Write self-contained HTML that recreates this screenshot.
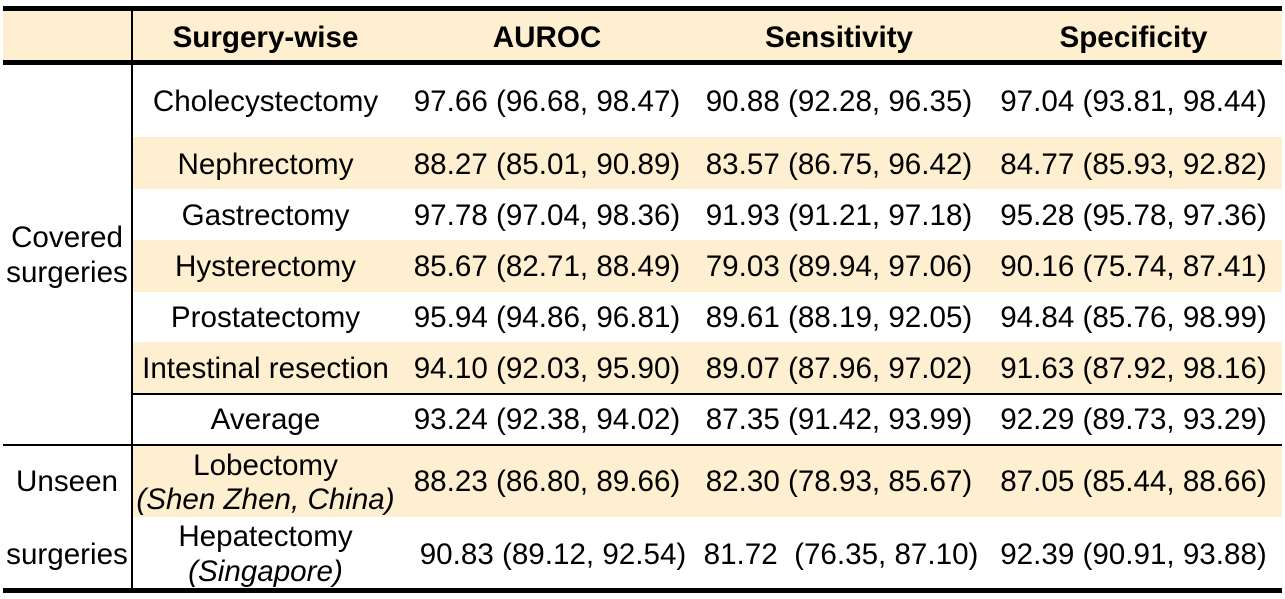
<!DOCTYPE html>
<html><head><meta charset="utf-8"><style>
body{margin:0;width:1285px;height:599px;background:#fff;position:relative;overflow:hidden;font-family:"Liberation Sans",Arial,sans-serif;color:#000}
.b{position:absolute;background:#fdefcf}
.l{position:absolute;background:#000}
.t{position:absolute;font-size:29.6px;text-align:center;white-space:nowrap;line-height:34px;margin-top:1px}
.h{font-weight:bold}
i{font-style:italic}
</style></head><body>
<div class="b" style="left:3px;top:11px;width:1279px;height:50px"></div>
<div class="b" style="left:133px;top:137px;width:1149px;height:52px"></div>
<div class="b" style="left:133px;top:240px;width:1149px;height:52px"></div>
<div class="b" style="left:133px;top:342px;width:1149px;height:51px"></div>
<div class="b" style="left:133px;top:446px;width:1149px;height:71px"></div>

<div class="l" style="left:3px;top:6px;width:1279px;height:5px"></div>
<div class="l" style="left:3px;top:60px;width:1279px;height:5px"></div>
<div class="l" style="left:133px;top:393px;width:1149px;height:2px"></div>
<div class="l" style="left:3px;top:444px;width:1279px;height:2px"></div>
<div class="l" style="left:3px;top:588px;width:1279px;height:5px"></div>
<div class="l" style="left:131px;top:11px;width:2px;height:578px"></div>

<div class="t h" style="left:133px;width:265px;top:20px">Surgery-wise</div>
<div class="t h" style="left:398px;width:298px;top:20px">AUROC</div>
<div class="t h" style="left:690px;width:298px;top:20px">Sensitivity</div>
<div class="t h" style="left:985px;width:297px;top:20px">Specificity</div>

<div class="t" style="left:1px;width:132px;top:220px">Covered</div>
<div class="t" style="left:1px;width:132px;top:255px">surgeries</div>
<div class="t" style="left:1px;width:132px;top:464px">Unseen</div>
<div class="t" style="left:1px;width:132px;top:537px">surgeries</div>

<div class="t" style="left:133px;width:265px;top:84px">Cholecystectomy</div>
<div class="t" style="left:133px;width:265px;top:147px">Nephrectomy</div>
<div class="t" style="left:133px;width:265px;top:198px">Gastrectomy</div>
<div class="t" style="left:133px;width:265px;top:249px">Hysterectomy</div>
<div class="t" style="left:133px;width:265px;top:300px">Prostatectomy</div>
<div class="t" style="left:133px;width:265px;top:351px">Intestinal resection</div>
<div class="t" style="left:133px;width:265px;top:402px">Average</div>
<div class="t" style="left:133px;width:265px;top:448px">Lobectomy</div>
<div class="t" style="left:133px;width:265px;top:482px"><i>(Shen Zhen, China)</i></div>
<div class="t" style="left:133px;width:265px;top:519px">Hepatectomy</div>
<div class="t" style="left:133px;width:265px;top:554px"><i>(Singapore)</i></div>

<div class="t" style="left:398px;width:298px;top:84px">97.66 (96.68, 98.47)</div>
<div class="t" style="left:690px;width:298px;top:84px">90.88 (92.28, 96.35)</div>
<div class="t" style="left:985px;width:297px;top:84px">97.04 (93.81, 98.44)</div>

<div class="t" style="left:398px;width:298px;top:147px">88.27 (85.01, 90.89)</div>
<div class="t" style="left:690px;width:298px;top:147px">83.57 (86.75, 96.42)</div>
<div class="t" style="left:985px;width:297px;top:147px">84.77 (85.93, 92.82)</div>

<div class="t" style="left:398px;width:298px;top:198px">97.78 (97.04, 98.36)</div>
<div class="t" style="left:690px;width:298px;top:198px">91.93 (91.21, 97.18)</div>
<div class="t" style="left:985px;width:297px;top:198px">95.28 (95.78, 97.36)</div>

<div class="t" style="left:398px;width:298px;top:249px">85.67 (82.71, 88.49)</div>
<div class="t" style="left:690px;width:298px;top:249px">79.03 (89.94, 97.06)</div>
<div class="t" style="left:985px;width:297px;top:249px">90.16 (75.74, 87.41)</div>

<div class="t" style="left:398px;width:298px;top:300px">95.94 (94.86, 96.81)</div>
<div class="t" style="left:690px;width:298px;top:300px">89.61 (88.19, 92.05)</div>
<div class="t" style="left:985px;width:297px;top:300px">94.84 (85.76, 98.99)</div>

<div class="t" style="left:398px;width:298px;top:351px">94.10 (92.03, 95.90)</div>
<div class="t" style="left:690px;width:298px;top:351px">89.07 (87.96, 97.02)</div>
<div class="t" style="left:985px;width:297px;top:351px">91.63 (87.92, 98.16)</div>

<div class="t" style="left:398px;width:298px;top:402px">93.24 (92.38, 94.02)</div>
<div class="t" style="left:690px;width:298px;top:402px">87.35 (91.42, 93.99)</div>
<div class="t" style="left:985px;width:297px;top:402px">92.29 (89.73, 93.29)</div>

<div class="t" style="left:398px;width:298px;top:464px">88.23 (86.80, 89.66)</div>
<div class="t" style="left:690px;width:298px;top:464px">82.30 (78.93, 85.67)</div>
<div class="t" style="left:985px;width:297px;top:464px">87.05 (85.44, 88.66)</div>

<div class="t" style="left:404px;width:298px;top:537px">90.83 (89.12, 92.54)</div>
<div class="t" style="left:692px;width:298px;top:537px">81.72&nbsp; (76.35, 87.10)</div>
<div class="t" style="left:985px;width:297px;top:537px">92.39 (90.91, 93.88)</div>
</body></html>
